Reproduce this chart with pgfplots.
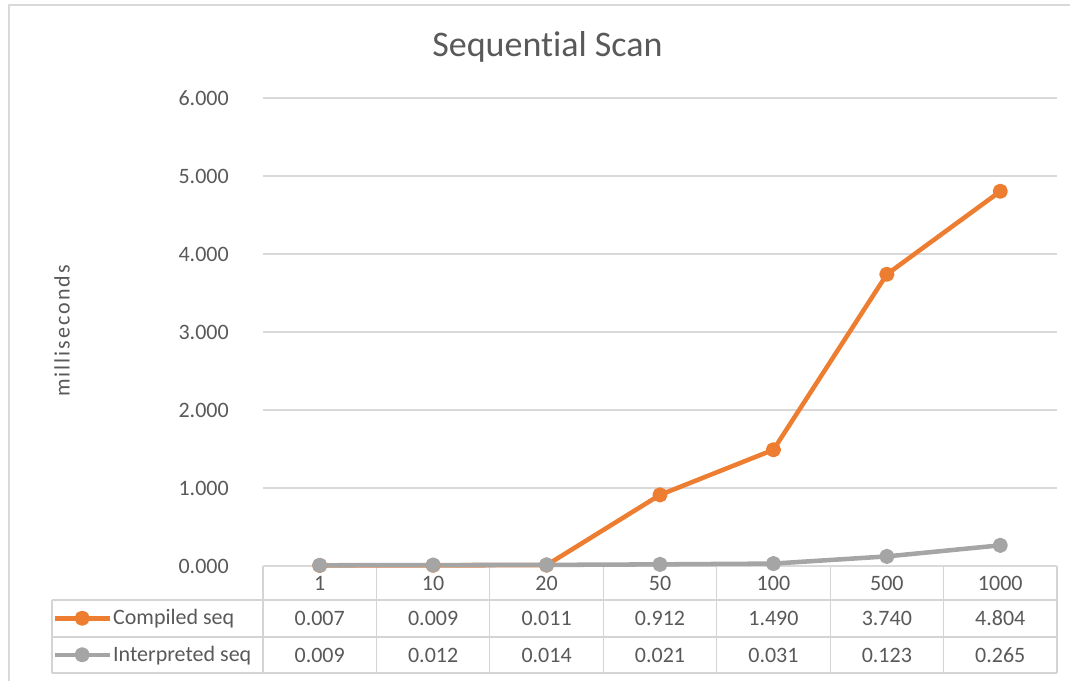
\documentclass[border=0pt]{standalone}
\usepackage{fontspec}
\setmainfont{Carlito}[Ligatures=NoCommon]
\newfontfamily\spaced[LetterSpace=9,Ligatures=NoCommon]{Carlito}
\usepackage{pgfplots}
\pgfplotsset{compat=1.18}
\definecolor{txt}{HTML}{595959}
\definecolor{gridc}{HTML}{D9D9D9}
\definecolor{tblc}{HTML}{D4D4D4}
\definecolor{orng}{HTML}{ED7D31}
\definecolor{gry}{HTML}{A5A5A5}
\begin{document}
\begin{tikzpicture}
\begin{scope}[x=0.75pt,y=-0.75pt]
\useasboundingbox (0,0) rectangle (1070,681);
\draw[gridc, line width=1.2pt] (9,681) -- (9,5) -- (1070,5);
% title and y label
\node[anchor=base, text=txt, font=\fontsize{27}{32}\selectfont, inner sep=0pt] at (547.5,57) {Sequential Scan};
\node[rotate=90, text=txt, font=\spaced\fontsize{16.5}{20}\selectfont, inner sep=0pt] at (62,331) {milliseconds};
% data table grid
\foreach \xx in {263,376.43,489.86,603.29,716.71,830.14,943.57,1057}{
  \draw[tblc, line width=0.9pt] (\xx,566) -- (\xx,673);
}
\draw[tblc, line width=0.9pt] (52,600) -- (1057,600);
\draw[tblc, line width=0.9pt] (52,637) -- (1057,637);
\draw[tblc, line width=0.9pt] (52,673) -- (1057,673);
\draw[tblc, line width=0.9pt] (52,600) -- (52,673);
% table values
\begin{scope}[every node/.style={text=txt, font=\fontsize{16.5}{20}\selectfont, inner sep=0pt, anchor=center}]
\node at (319.71,618.5) {0.007};
\node at (433.14,618.5) {0.009};
\node at (546.57,618.5) {0.011};
\node at (660.00,618.5) {0.912};
\node at (773.43,618.5) {1.490};
\node at (886.86,618.5) {3.740};
\node at (1000.29,618.5) {4.804};
\node at (319.71,655) {0.009};
\node at (433.14,655) {0.012};
\node at (546.57,655) {0.014};
\node at (660.00,655) {0.021};
\node at (773.43,655) {0.031};
\node at (886.86,655) {0.123};
\node at (1000.29,655) {0.265};
\end{scope}
\end{scope}
\begin{axis}[
  at={(197.25pt,-424.5pt)}, anchor=south west,
  scale only axis, width=595.5pt, height=351pt,
  xmin=-0.5, xmax=6.5, ymin=0, ymax=6,
  xtick={0,1,2,3,4,5,6},
  xticklabels={1,10,20,50,100,500,1000},
  ytick={0,1,2,3,4,5,6},
  /pgf/number format/assume math mode=true,
  yticklabel={\pgfmathprintnumber[fixed,fixed zerofill,precision=3]{\tick}},
  xticklabel style={anchor=center, yshift=-12.75pt, text=txt, font=\fontsize{16.5}{20}\selectfont, inner sep=0pt},
  yticklabel style={anchor=east, inner sep=0pt, xshift=-25.5pt, text=txt, font=\fontsize{16.5}{20}\selectfont},
  major tick length=0pt,
  axis line style={draw=none},
  ymajorgrids, grid style={gridc, line width=0.9pt},
  clip=false,
  legend style={at={(-0.265,-0.0726)}, anchor=north west, draw=none, fill=none,
    inner sep=0pt, outer sep=0pt, row sep=0pt, column sep=1pt,
    font=\fontsize{16.5}{20}\selectfont, text=txt,
    nodes={inner sep=0pt, minimum height=27.4pt}},
  legend cell align=left,
  legend image code/.code={\draw[mark repeat=2,mark phase=2,#1] plot coordinates {(0pt,0pt) (20.5pt,0pt) (41pt,0pt)};},
]
\addplot[orng, line width=3.4pt, line join=round, mark=*, mark size=4pt, mark options={solid}]
  coordinates {(0,0.007) (1,0.009) (2,0.011) (3,0.912) (4,1.490) (5,3.740) (6,4.804)};
\addlegendentry{Compiled seq}
\addplot[gry, line width=3.4pt, line join=round, mark=*, mark size=4pt, mark options={solid}]
  coordinates {(0,0.009) (1,0.012) (2,0.014) (3,0.021) (4,0.031) (5,0.123) (6,0.265)};
\addlegendentry{Interpreted seq}
\end{axis}
\end{tikzpicture}
\end{document}
